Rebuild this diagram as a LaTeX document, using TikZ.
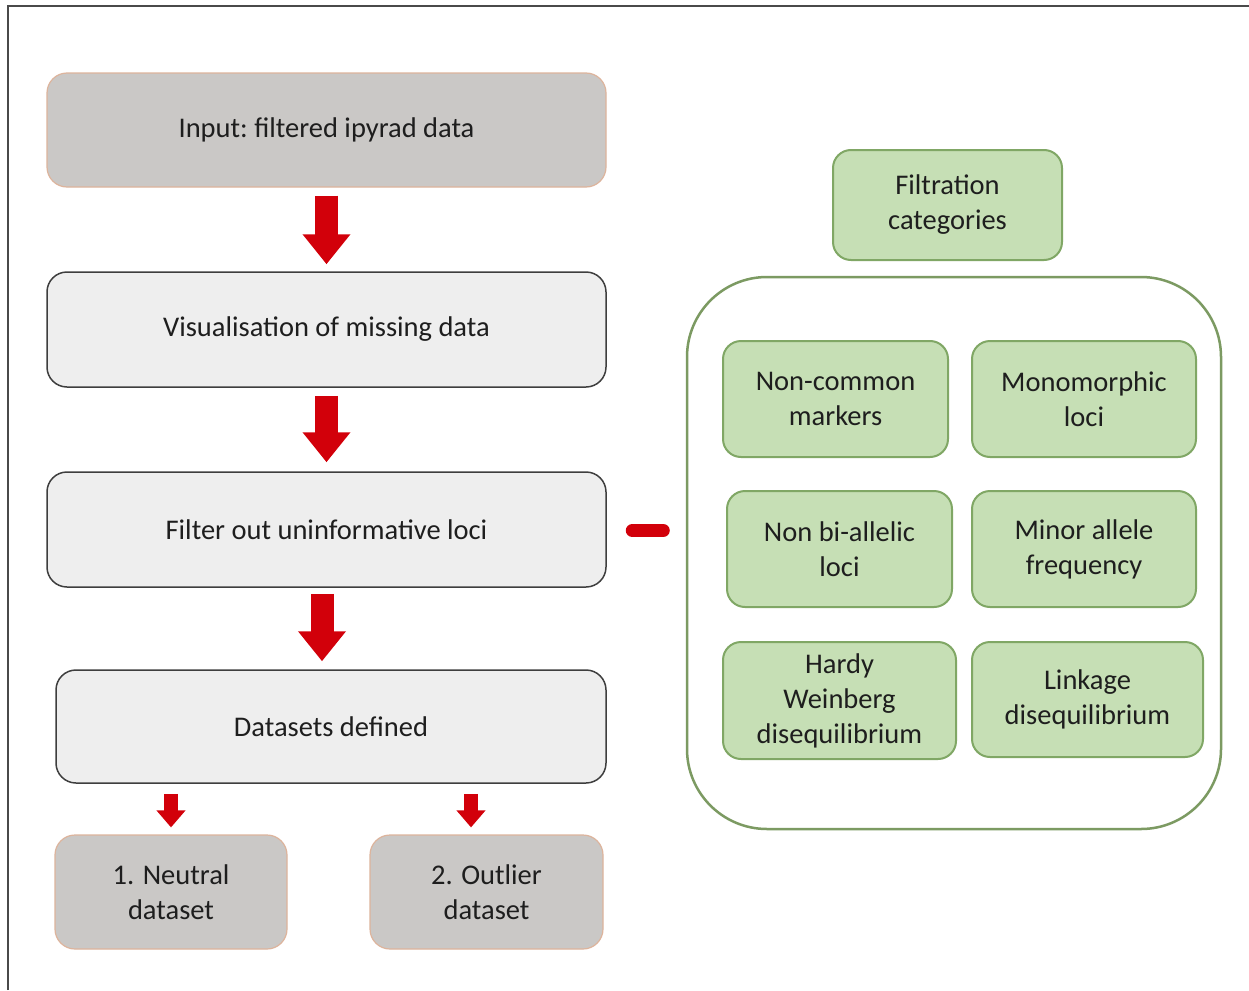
\documentclass[tikz,border=0pt]{standalone}
\usepackage{fontspec}
\setmainfont{Carlito}
\usetikzlibrary{arrows.meta}
\definecolor{txt}{HTML}{1E1E1E}
\definecolor{gfill}{HTML}{CAC8C6}
\definecolor{gdraw}{HTML}{DDB49C}
\definecolor{lfill}{HTML}{EEEEEE}
\definecolor{ldraw}{HTML}{3E3E3E}
\definecolor{grfill}{HTML}{C6DFB5}
\definecolor{grdraw}{HTML}{80A765}
\definecolor{contdraw}{HTML}{7C9A62}
\definecolor{arrred}{HTML}{D2000A}
\definecolor{frame}{HTML}{4A4A4A}
\newcommand\dfont{\fontsize{28.5}{35}\selectfont}
\tikzset{
  base/.style={rounded corners=20pt, align=center, inner sep=0pt, font=\dfont, text=txt},
  graybox/.style={base, fill=gfill, draw=gdraw, line width=1.2pt},
  lightbox/.style={base, fill=lfill, draw=ldraw, line width=1.5pt},
  greenbox/.style={base, fill=grfill, draw=grdraw, line width=2pt, rounded corners=18pt},
  container/.style={draw=contdraw, line width=2.5pt, rounded corners=80pt, inner sep=0pt},
  bigarrow/.style={draw=arrred, line width=23pt, -{Triangle[width=46pt,length=30pt]}},
  smallarrow/.style={draw=arrred, line width=14pt, -{Triangle[width=28pt,length=17pt]}},
  dashlink/.style={draw=arrred, line width=13pt, line cap=round},
}
\begin{document}
\begin{tikzpicture}[x=1pt,y=-1pt]
\useasboundingbox (0,0) rectangle (1249,990);
\fill[white] (0,0) rectangle (1249,990);
\draw[frame, line width=2.2pt] (8,990) -- (8,6) -- (1249,6);

% left column
\node[graybox, minimum width=559, minimum height=114] (in) at (326.5,130) {Input:\ filtered ipyrad data};
\node[lightbox, minimum width=559, minimum height=115] (vis) at (326.5,329.5) {Visualisation of missing data};
\node[lightbox, minimum width=559, minimum height=115] (filt) at (326.5,529.5) {Filter out uninformative loci};
\node[lightbox, minimum width=550, minimum height=113] (ds) at (331,726.5) {Datasets defined};
\node[graybox, minimum width=232, minimum height=114] (neu) at (171,892) {1. Neutral\\dataset};
\node[graybox, minimum width=233, minimum height=114] (out) at (486.5,892) {2. Outlier\\dataset};

% right side
\node[greenbox, minimum width=229, minimum height=110] (fc) at (947.5,205) {Filtration\\categories};
\node[container, minimum width=534, minimum height=552] (cont) at (954,553) {};
\node[greenbox, minimum width=225, minimum height=116] (nc) at (835.5,399) {Non-common\\markers};
\node[greenbox, minimum width=224, minimum height=116] (mono) at (1084,399) {Monomorphic\\loci};
\node[greenbox, minimum width=225, minimum height=116] (nba) at (839.5,549) {Non bi-allelic\\loci};
\node[greenbox, minimum width=224, minimum height=116] (maf) at (1084,549) {Minor allele\\frequency};
\node[greenbox, minimum width=233, minimum height=117] (hw) at (839.5,700.5) {Hardy\\Weinberg\\disequilibrium};
\node[greenbox, minimum width=231, minimum height=115] (ld) at (1087.5,699.5) {Linkage\\disequilibrium};

% connectors
\draw[bigarrow] ([yshift=-8pt]in.south) -- ([yshift=7pt]vis.north);
\draw[bigarrow] ([yshift=-8pt]vis.south) -- ([yshift=9pt]filt.north);
\draw[bigarrow] ([xshift=-4.5pt,yshift=-6pt]filt.south) -- ([xshift=-4.5pt,yshift=8pt]filt.south |- ds.north);
\draw[smallarrow] ([yshift=-10pt]ds.south -| neu.north) -- ([yshift=7pt]neu.north);
\draw[smallarrow] ([xshift=-15.5pt,yshift=-10pt]ds.south -| out.north) -- ([xshift=-15.5pt,yshift=7pt]out.north);
\draw[dashlink] ([xshift=25.5pt,yshift=-1pt]filt.east) -- ([xshift=-22.5pt,yshift=-1pt]cont.west |- filt.east);
\end{tikzpicture}
\end{document}
